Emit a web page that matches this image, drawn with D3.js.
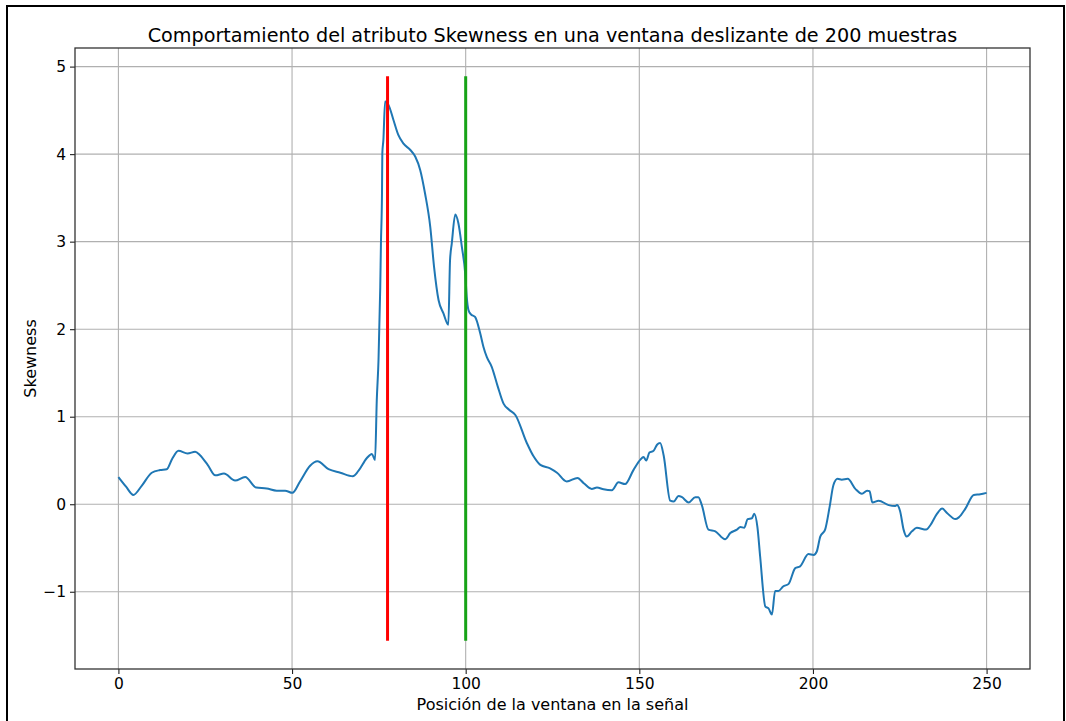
<!DOCTYPE html>
<html>
<head>
<meta charset="utf-8">
<script src="https://cdn.jsdelivr.net/npm/d3@7"></script>
<style>
  html, body { margin: 0; padding: 0; background: #fff; }
  svg { display: block; font-family: "DejaVu Sans", sans-serif; }
</style>
</head>
<body>
<svg id="chart" width="1066" height="721"></svg>
<script>
// Window position (x) and skewness value of the sliding-window signal
const positions = [
  0, 2.2, 4.3, 6.7, 9.6, 12, 13.9, 15.5, 17.3, 19.9, 22.1, 23.5, 25.7, 27.9, 30.4,
  33.6, 36.5, 39.7, 42.7, 45.6, 48, 50.1, 52.3, 55.2, 57.3, 60.5, 63.9, 67.5, 69.1,
  71.5, 73, 73.9, 74.4, 74.9, 75.4, 75.6, 75.9, 76.0, 76.3, 76.8, 77.8, 79.2, 80.6,
  82.1, 84.0, 85.5, 86.9, 88.3, 89.8, 90.9, 92.2, 93.6, 95.0, 95.5, 96.0, 97.0, 97.9,
  98.9, 99.9, 100.3, 100.8, 101.5, 102.7, 104.2, 105.1, 106.1, 107.5, 109.2, 110.9,
  112.5, 114.3, 117.6, 119.5, 121.5, 124.3, 126.3, 129.1, 132.2, 134, 136.3, 137.8,
  139.7, 142.1, 144.0, 145.9, 148.3, 150.3, 151.2, 152.0, 152.9, 154.1, 155.1, 156.0,
  157.0, 158.9, 159.9, 161.3, 162.3, 164.2, 166.1, 167.0, 168.0, 169.9, 171.9, 174.7,
  176.2, 178.1, 179.1, 180.2, 181.2, 182.4, 183.1, 184.0, 184.8, 186.3, 187.2, 188.2,
  189.1, 190.1, 191.4, 193.0, 194.9, 196.3, 198.7, 200.2, 201.1, 202.1, 203.5, 204.8,
  205.9, 207.1, 208.3, 210.0, 212.2, 214.1, 215.6, 216.3, 217.1, 218.9, 221.8, 223.7,
  224.2, 225.1, 226.1, 227.0, 228.5, 229.9, 232.6, 233.8, 235.7, 237.2, 238.6, 241.0,
  242.0, 243.9, 246.3, 248.2, 250
];
const skewness = [
  0.31, 0.20, 0.106, 0.21, 0.36, 0.39, 0.40, 0.52, 0.61, 0.58, 0.60, 0.56, 0.45, 0.33, 0.35,
  0.27, 0.31, 0.19, 0.18, 0.155, 0.155, 0.13, 0.26, 0.44, 0.49, 0.40, 0.36, 0.32, 0.38,
  0.525, 0.574, 0.505, 1.19, 1.65, 2.48, 2.98, 3.55, 4.01, 4.16, 4.60, 4.56, 4.39, 4.22,
  4.12, 4.05, 3.97, 3.82, 3.55, 3.17, 2.71, 2.33, 2.18, 2.05, 2.79, 2.98, 3.31, 3.21,
  2.94, 2.62, 2.37, 2.22, 2.17, 2.14, 1.95, 1.80, 1.68, 1.57, 1.35, 1.15,
  1.08, 1.02, 0.70, 0.55, 0.45, 0.41, 0.36, 0.26, 0.30, 0.24, 0.175, 0.19,
  0.17, 0.16, 0.25, 0.23, 0.39, 0.51, 0.54, 0.50, 0.59, 0.61, 0.68, 0.70,
  0.56, 0.04, 0.03, 0.095, 0.08, 0.02, 0.08, 0.08, -0.01, -0.29, -0.31, -0.40,
  -0.33, -0.29, -0.26, -0.27, -0.17, -0.16, -0.11, -0.26, -0.60, -1.17, -1.19, -1.26,
  -0.99, -0.99, -0.94, -0.91, -0.73, -0.71, -0.57, -0.58, -0.54, -0.37, -0.29, -0.03,
  0.22, 0.29, 0.28, 0.29, 0.175, 0.12, 0.155, 0.15, 0.02, 0.04, -0.01, -0.02,
  -0.01, -0.08, -0.29, -0.37, -0.31, -0.27, -0.29, -0.24, -0.11, -0.05, -0.10, -0.17,
  -0.15, -0.05, 0.106, 0.114, 0.13
];

// Event markers (window positions) and their vertical extent
const markerPositions = [77.5, 100];
const markerColors = ["#ff0000", "#17a317"];
const markerRange = [-1.56, 4.89];

const xTicks = [0, 50, 100, 150, 200, 250];
const yTicks = [-1, 0, 1, 2, 3, 4, 5];

const titleText = "Comportamiento del atributo Skewness en una ventana deslizante de 200 muestras";
const xLabelText = "Posición de la ventana en la señal";
const yLabelText = "Skewness";

const svg = d3.select("#chart");
const plot = { left: 75, right: 1030, top: 48, bottom: 669 };

// Outer frame
svg.append("rect")
  .attr("x", 7).attr("y", 6)
  .attr("width", 1057).attr("height", 800)
  .attr("fill", "none").attr("stroke", "#000").attr("stroke-width", 2);

// Domains with 5% padding around the data/markers
const xMin = 0, xMax = 250;
const xPad = (xMax - xMin) * 0.05;
const x = d3.scaleLinear()
  .domain([xMin - xPad, xMax + xPad])
  .range([plot.left, plot.right]);

const yLo = markerRange[0], yHi = markerRange[1];
const yPad = (yHi - yLo) * 0.05;
const y = d3.scaleLinear()
  .domain([yLo - yPad, yHi + yPad])
  .range([plot.bottom, plot.top]);

// Grid
const grid = svg.append("g").attr("class", "grid");
grid.selectAll("line.gx").data(xTicks).join("line")
  .attr("x1", d => x(d)).attr("x2", d => x(d))
  .attr("y1", plot.top).attr("y2", plot.bottom)
  .attr("stroke", "#b0b0b0").attr("stroke-width", 1.1);
grid.selectAll("line.gy").data(yTicks).join("line")
  .attr("y1", d => y(d)).attr("y2", d => y(d))
  .attr("x1", plot.left).attr("x2", plot.right)
  .attr("stroke", "#b0b0b0").attr("stroke-width", 1.1);

// Skewness curve
const pts = positions.map((p, i) => [p, skewness[i]]);
const line = d3.line()
  .x(d => x(d[0])).y(d => y(d[1]))
  .curve(d3.curveMonotoneX);
svg.append("path")
  .datum(pts)
  .attr("d", line)
  .attr("fill", "none")
  .attr("stroke", "#1f77b4")
  .attr("stroke-width", 2)
  .attr("stroke-linejoin", "round");

// Vertical marker lines
svg.selectAll("line.marker").data(markerPositions).join("line")
  .attr("class", "marker")
  .attr("x1", d => x(d)).attr("x2", d => x(d))
  .attr("y1", y(markerRange[0])).attr("y2", y(markerRange[1]))
  .attr("stroke", (d, i) => markerColors[i])
  .attr("stroke-width", 3);

// Axes
const fmt = d => d < 0 ? "\u2212" + Math.abs(d) : String(d);
const xAxis = d3.axisBottom(x).tickValues(xTicks).tickFormat(fmt).tickSizeOuter(0).tickSize(5).tickPadding(4);
const yAxis = d3.axisLeft(y).tickValues(yTicks).tickFormat(fmt).tickSizeOuter(0).tickSize(5).tickPadding(4);

const gx = svg.append("g").attr("transform", `translate(0,${plot.bottom})`).call(xAxis);
const gy = svg.append("g").attr("transform", `translate(${plot.left},0)`).call(yAxis);
[gx, gy].forEach(g => {
  g.select(".domain").remove();
  g.selectAll(".tick line").attr("stroke", "#222").attr("stroke-width", 1.1);
  g.selectAll(".tick text").attr("fill", "#000")
    .style("font-family", "DejaVu Sans").style("font-size", "15.5px");
});

// Spines
svg.append("rect")
  .attr("x", plot.left).attr("y", plot.top)
  .attr("width", plot.right - plot.left).attr("height", plot.bottom - plot.top)
  .attr("fill", "none").attr("stroke", "#333").attr("stroke-width", 1.3);

// Texts
svg.append("text")
  .attr("x", (plot.left + plot.right) / 2).attr("y", 41.5)
  .attr("text-anchor", "middle")
  .style("font-size", "19.2px").attr("fill", "#000")
  .text(titleText);

svg.append("text")
  .attr("x", (plot.left + plot.right) / 2).attr("y", 710)
  .attr("text-anchor", "middle")
  .style("font-size", "16px").attr("fill", "#000")
  .text(xLabelText);

svg.append("text")
  .attr("transform", `translate(36,${(plot.top + plot.bottom) / 2}) rotate(-90)`)
  .attr("text-anchor", "middle")
  .style("font-size", "16px").attr("fill", "#000")
  .text(yLabelText);
</script>
</body>
</html>
